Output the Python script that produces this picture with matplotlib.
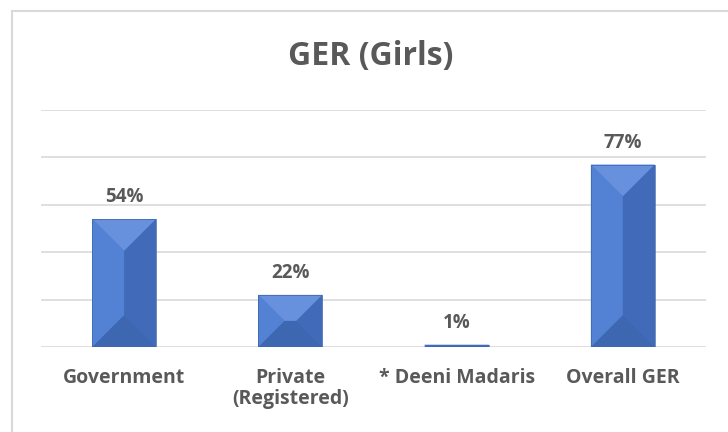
import matplotlib
matplotlib.use("Agg")
import matplotlib.pyplot as plt
from matplotlib.patches import Polygon, Rectangle

categories = ["Government", "Private\n(Registered)", "* Deeni Madaris", "Overall GER"]
values = [54, 22, 1, 77]
value_labels = ["54%", "22%", "1%", "77%"]
title = "GER (Girls)"

plt.rcParams["font.family"] = ["Open Sans", "DejaVu Sans"]
TEXT = "#595959"
GRID = "#d9d9d9"

fig = plt.figure(figsize=(7.28, 4.32), dpi=100)
ax = fig.add_axes([41 / 728, 85 / 432, 665 / 728, 237 / 432])

ax.set_xlim(-0.5, len(categories) - 0.5)
ax.set_ylim(0, 100)
ax.set_yticks(range(0, 101, 20))
ax.yaxis.grid(True, color=GRID, linewidth=1.2)
ax.set_axisbelow(True)
for s in ax.spines.values():
    s.set_visible(False)
ax.tick_params(length=0, labelleft=False)
ax.set_xticks(range(len(categories)))
ax.set_xticklabels(categories, fontsize=14, fontweight="bold", color=TEXT,
                   linespacing=1.05)
ax.tick_params(axis="x", pad=15)
for lbl in ax.get_xticklabels():
    lbl.set_verticalalignment("top")

width = 0.385
# pixels per data unit, to get a 45 degree bevel
px_x = 665 / len(categories)
px_y = 237 / 100

for i, v in enumerate(values):
    x0, x1 = i - width / 2, i + width / 2
    y0, y1 = 0, v
    ax.add_patch(Rectangle((x0, y0), width, v, facecolor="#4472c4",
                           edgecolor="none", zorder=3))
    d_px = min(width * px_x / 2, v * px_y / 2)
    dx, dy = d_px / px_x, d_px / px_y
    faces = [
        ([(x0, y1), (x1, y1), (x1 - dx, y1 - dy), (x0 + dx, y1 - dy)], "#6791dc"),
        ([(x0, y0), (x1, y0), (x1 - dx, y0 + dy), (x0 + dx, y0 + dy)], "#3e67b1"),
        ([(x0, y0), (x0, y1), (x0 + dx, y1 - dy), (x0 + dx, y0 + dy)], "#5382d4"),
        ([(x1, y0), (x1, y1), (x1 - dx, y1 - dy), (x1 - dx, y0 + dy)], "#416bb8"),
    ]
    for pts, c in faces:
        ax.add_patch(Polygon(pts, closed=True, facecolor=c, edgecolor="none",
                             zorder=4))
    ax.add_patch(Rectangle((x0, y0), width, v, facecolor="none",
                           edgecolor="#3c64ab", linewidth=0.5, zorder=5))
    ax.annotate(value_labels[i], (i, v), xytext=(0, 8.5), textcoords="offset points",
                ha="center", va="bottom", fontsize=13.5, fontweight="bold",
                color=TEXT, zorder=6)

fig.text(371 / 728, 1 - 57 / 432, title, ha="center", va="center",
         fontsize=23, fontweight="bold", color=TEXT)

# chart frame
fig.add_artist(Rectangle((12 / 728, -0.1), 1.2, 1 - 11 / 432 + 0.1,
                         transform=fig.transFigure, facecolor="none",
                         edgecolor=GRID, linewidth=1.5))

fig.savefig("out.png", dpi=100)
